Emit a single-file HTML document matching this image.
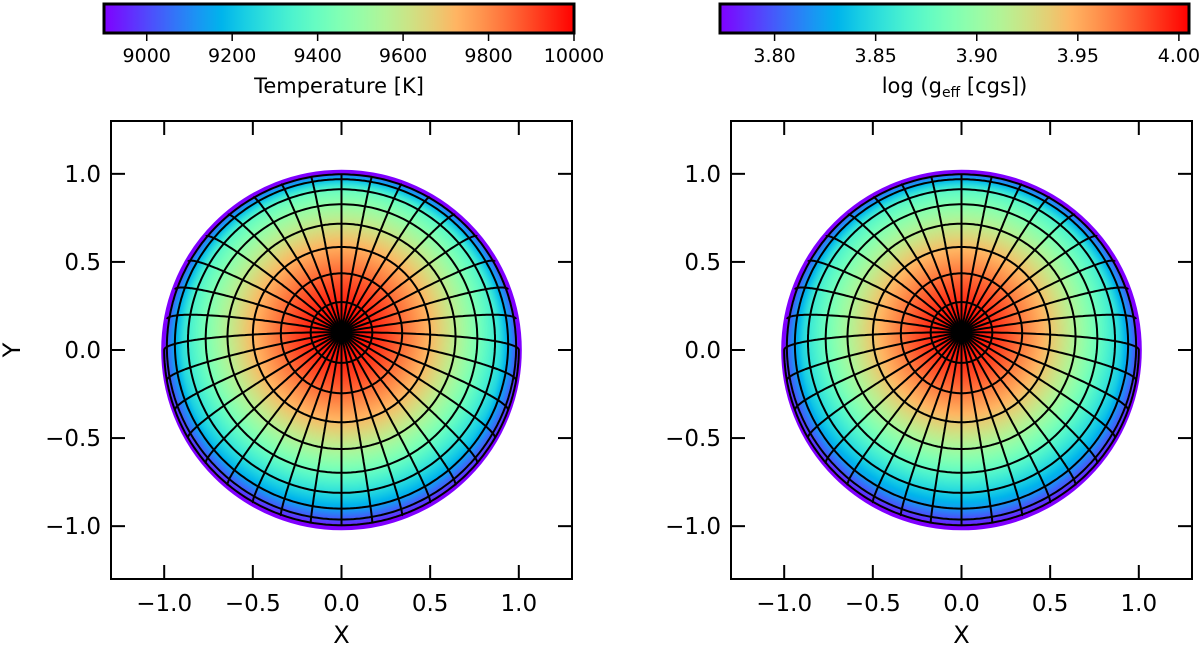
<!DOCTYPE html>
<html><head><meta charset="utf-8"><style>
html,body{margin:0;padding:0;background:#fff;width:1200px;height:646px;overflow:hidden}
svg text{font-family:"DejaVu Sans","Liberation Sans",sans-serif;fill:#000}
</style></head><body>
<svg id="fig" width="1200" height="646" viewBox="0 0 1200 646"></svg>
<script>
// ---- data ----
const axisTicks = [-1.0, -0.5, 0.0, 0.5, 1.0];
const axisTickLabels = ["\u22121.0", "\u22120.5", "0.0", "0.5", "1.0"];
const latitudesDeg = [10, 20, 30, 40, 50, 60, 70, 80, 90];
const longitudesDeg = [0,10,20,30,40,50,60,70,80,90,100,110,120,130,140,150,160,170,180,190,200,210,220,230,240,250,260,270,280,290,300,310,320,330,340,350];
const poleTiltDeg = 5.8;
const tempTicks = [9000, 9200, 9400, 9600, 9800, 10000];
const tempRange = [8900, 10000];
const gravTicks = [3.80, 3.85, 3.90, 3.95, 4.00];
const gravTickLabels = ["3.80", "3.85", "3.90", "3.95", "4.00"];
const gravRange = [3.773, 4.005];

const NS = "http://www.w3.org/2000/svg";
const fig = document.getElementById('fig');
function mk(tag, attrs, parent){const e=document.createElementNS(NS,tag);for(const k in attrs)e.setAttribute(k,attrs[k]);(parent||fig).appendChild(e);return e;}
function rainbow(t){t=Math.max(0,Math.min(1,t));
  const r=Math.min(1,Math.abs(2*t-0.5)), g=Math.sin(Math.PI*t), b=Math.cos(Math.PI*t/2);
  return [Math.round(r*255),Math.round(g*255),Math.round(b*255)];}

function colorbar(x0,x1,y0,y1,range,ticks,labels,title,name){
  const g=mk('g',{});  
  const defs=mk('defs',{},g); const lg=mk('linearGradient',{id:name+'-grad',x1:0,x2:1,y1:0,y2:0},defs);
  for(let i=0;i<=20;i++){const c=rainbow(i/20);mk('stop',{offset:i/20,'stop-color':`rgb(${c})`},lg);}
  mk('rect',{x:x0,y:y0,width:x1-x0,height:y1-y0,fill:`url(#${name}-grad)`,stroke:'#000','stroke-width':3},g);
  const sx=v=>x0+(v-range[0])/(range[1]-range[0])*(x1-x0);
  ticks.forEach((v,i)=>{const x=sx(v);
    mk('line',{x1:x,x2:x,y1:y1,y2:y1+8,stroke:'#000','stroke-width':1.5},g);
    const t=mk('text',{x:x,y:y1+29,'font-size':19,'text-anchor':'middle'},g);t.textContent=labels[i];
    
    });
  const tt=mk('text',{x:(x0+x1)/2,y:y1+60,'font-size':21,'text-anchor':'middle'},g);
  tt.innerHTML=title;  
}

function panel(L,T,W,H,name,ylabel,valFn){
  const g=mk('g',{});  
  const sx=v=>L+(v+1.3)/2.6*W, sy=v=>T+(1.3-v)/2.6*H;
  const cx=sx(0), cy=sy(0), R=sx(1)-sx(0);
  const N=Math.ceil(2*R)+4, cv=document.createElement('canvas'); cv.width=N; cv.height=N;
  const ctx=cv.getContext('2d'), img=ctx.createImageData(N,N);
  const a=poleTiltDeg*Math.PI/180, py=Math.sin(a);
  for(let j=0;j<N;j++)for(let i=0;i<N;i++){
    const X=(i+0.5-N/2)/R, Y=-(j+0.5-N/2)/R, d=X*X+Y*Y;
    if(d>1.0)continue;
    const r=Math.sqrt(X*X+(Y-py)*(Y-py)), Z=Math.sqrt(1-d);
    const edge=Math.pow(Math.min(1,Z/0.45),0.8);
    const col=rainbow(valFn(r)*edge); const k=(j*N+i)*4;
    img.data[k]=col[0];img.data[k+1]=col[1];img.data[k+2]=col[2];img.data[k+3]=255;}
  ctx.putImageData(img,0,0);
  const im=mk('image',{x:cx-N/2,y:cy-N/2,width:N,height:N,href:cv.toDataURL()},g);
   
  mk('circle',{cx:cx,cy:cy,r:R+1,fill:'none',stroke:'#8000ff','stroke-width':4},g);
  const proj=(th,la)=>{const x=Math.sin(th)*Math.cos(la),y=Math.sin(th)*Math.sin(la),z=Math.cos(th);
    return [x, y*Math.cos(a)+z*Math.sin(a), -y*Math.sin(a)+z*Math.cos(a)];};
  const grid=mk('g',{fill:'none',stroke:'#000','stroke-width':2},g);
   
  latitudesDeg.forEach(lat=>{const th=lat*Math.PI/180; let d='',pen=false;
    for(let k=0;k<=360;k++){const p=proj(th,k*Math.PI/180);
      if(p[2]<0){pen=false;continue;}
      d+=(pen?'L':'M')+sx(p[0]).toFixed(1)+','+sy(p[1]).toFixed(1);pen=true;}
    const pa=mk('path',{d:d},grid);
     });
  longitudesDeg.forEach(lo=>{const la=lo*Math.PI/180; let d='',pen=false;
    for(let k=0;k<=100;k++){const p=proj(k*Math.PI/180,la);
      if(p[2]<0){pen=false;continue;}
      d+=(pen?'L':'M')+sx(p[0]).toFixed(1)+','+sy(p[1]).toFixed(1);pen=true;}
    const pa=mk('path',{d:d},grid);
     });
  mk('rect',{x:L,y:T,width:W,height:H,fill:'none',stroke:'#000','stroke-width':2},g);
  axisTicks.forEach((v,i)=>{const x=sx(v),y=sy(v);
    mk('line',{x1:x,x2:x,y1:T+H,y2:T+H-14,stroke:'#000','stroke-width':2},g);
    mk('line',{x1:x,x2:x,y1:T,y2:T+14,stroke:'#000','stroke-width':2},g);
    mk('line',{x1:L,x2:L+14,y1:y,y2:y,stroke:'#000','stroke-width':2},g);
    mk('line',{x1:L+W,x2:L+W-14,y1:y,y2:y,stroke:'#000','stroke-width':2},g);
    const tx=mk('text',{x:x,y:T+H+32,'font-size':23,'text-anchor':'middle'},g);tx.textContent=axisTickLabels[i];
     
    const ty=mk('text',{x:L-10,y:y+8,'font-size':23,'text-anchor':'end'},g);ty.textContent=axisTickLabels[i];
     });
  const xl=mk('text',{x:L+W/2,y:T+H+64,'font-size':24,'text-anchor':'middle'},g);xl.textContent='X';
   
  if(ylabel){const yl=mk('text',{x:20,y:T+H/2,'font-size':24,'text-anchor':'middle',transform:`rotate(-90 20 ${T+H/2})`},g);
    yl.textContent='Y';  }
}

colorbar(104,574,4,33,tempRange,tempTicks,tempTicks.map(String),'Temperature [K]','temperature-colorbar');
colorbar(720,1189,4,33,gravRange,gravTicks,gravTickLabels,'log (g<tspan font-size="14" dy="4">eff</tspan><tspan dy="-4"> [cgs])</tspan>','gravity-colorbar');
panel(111,121,461,458,'temperature-panel',true,r=>1-0.78*Math.pow(r,1.6));
panel(731,121,461,458,'gravity-panel',false,r=>1-0.8*Math.pow(r,1.5));
</script>
</body></html>
